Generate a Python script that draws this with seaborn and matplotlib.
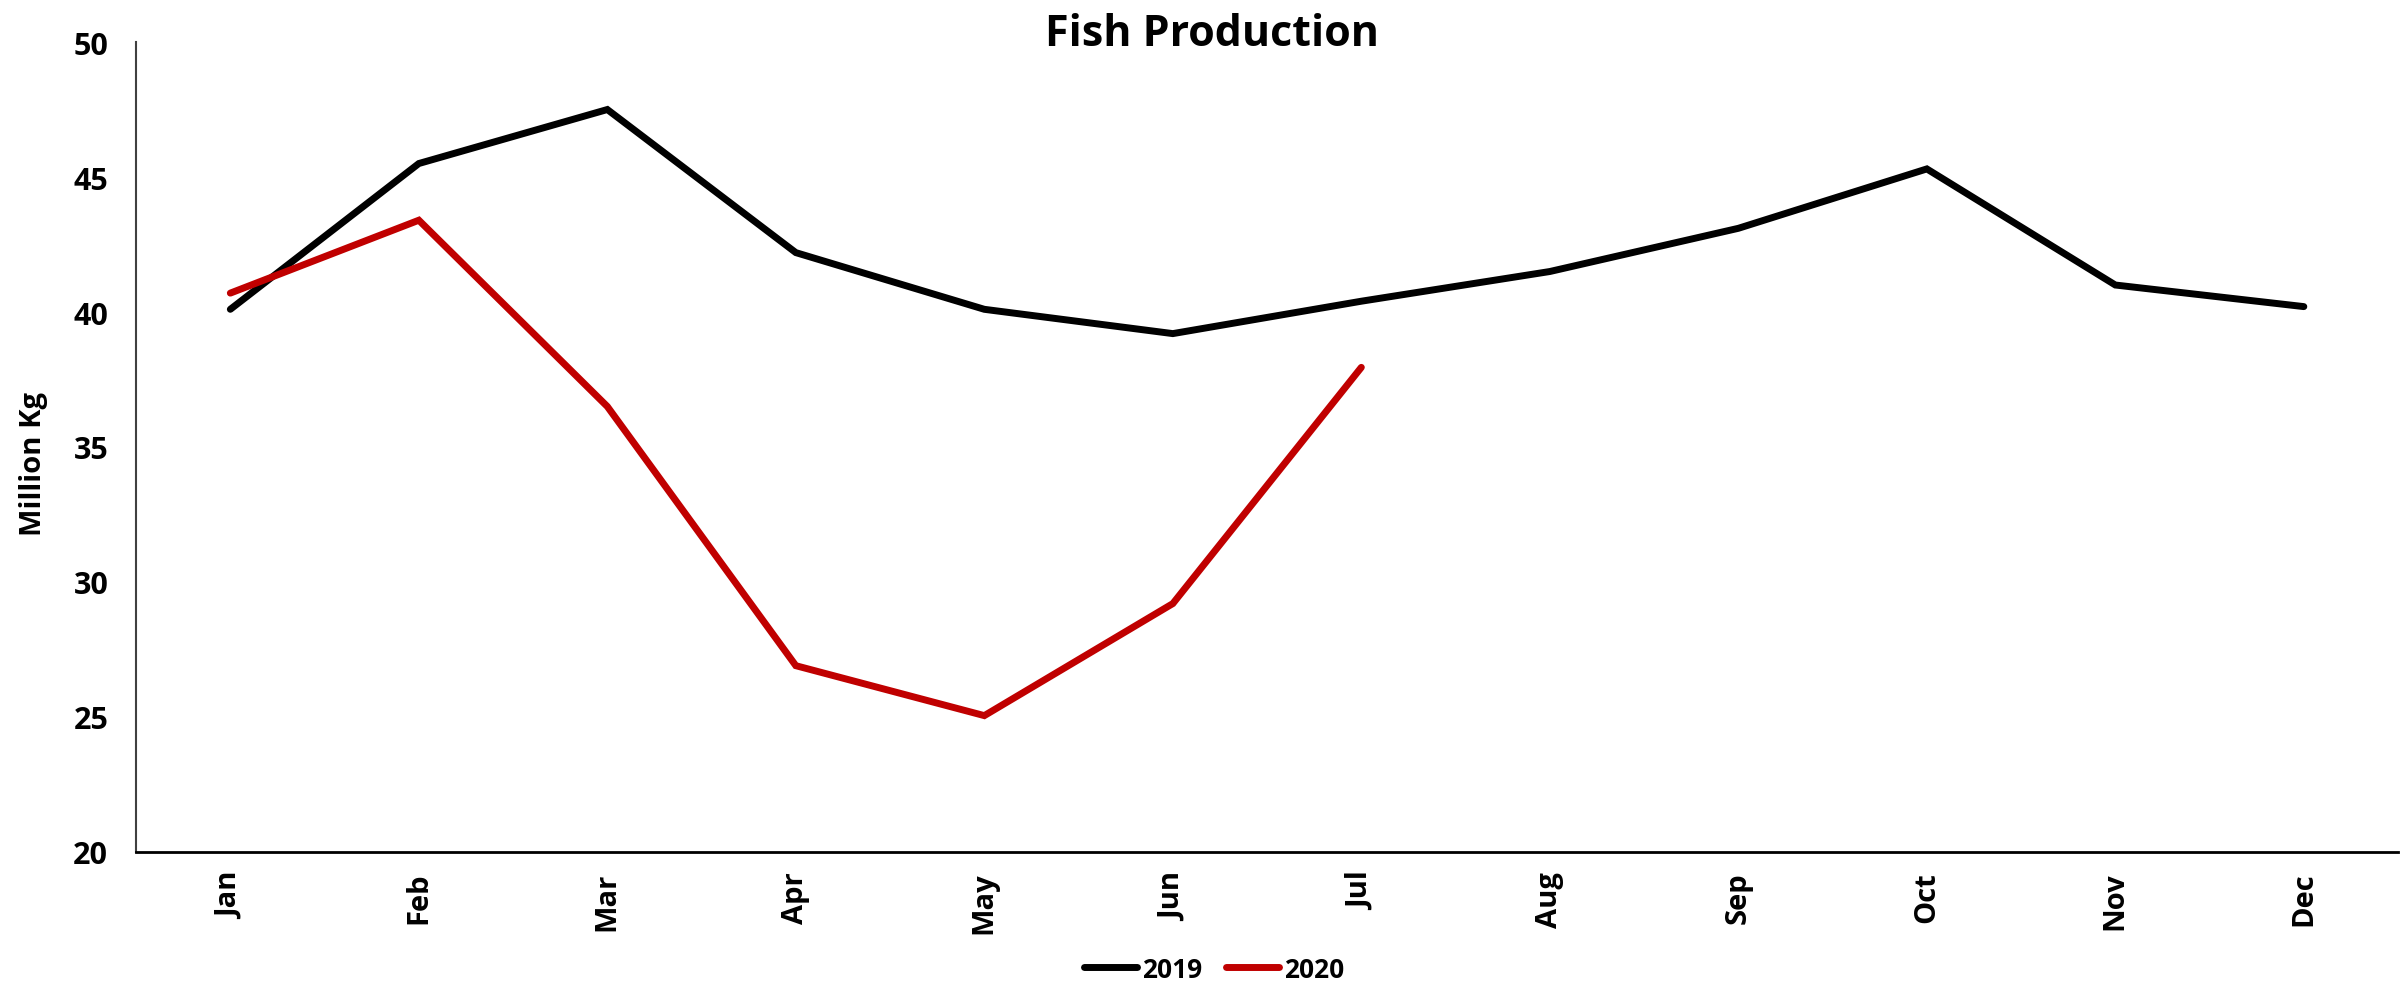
import matplotlib
matplotlib.use("Agg")
import matplotlib.pyplot as plt
import seaborn as sns
import pandas as pd

months = ["Jan", "Feb", "Mar", "Apr", "May", "Jun",
          "Jul", "Aug", "Sep", "Oct", "Nov", "Dec"]
production_2019 = [40.1, 45.5, 47.5, 42.2, 40.1, 39.2,
                   40.4, 41.5, 43.1, 45.3, 41.0, 40.2]
production_2020 = [40.7, 43.4, 36.5, 26.9, 25.05, 29.2, 37.95]
years = ["2019", "2020"]
y_ticks = [20, 25, 30, 35, 40, 45, 50]

df = pd.concat([
    pd.DataFrame({"Month": months, "Value": production_2019, "Year": years[0]}),
    pd.DataFrame({"Month": months[:len(production_2020)],
                  "Value": production_2020, "Year": years[1]}),
], ignore_index=True)

sns.set_style("white")
plt.rcParams["font.family"] = ["Open Sans", "DejaVu Sans"]
plt.rcParams["font.weight"] = "bold"
for key in ("text.color", "axes.labelcolor", "xtick.color", "ytick.color"):
    plt.rcParams[key] = "black"

fig = plt.figure(figsize=(24, 9.87), dpi=100)
ax = fig.add_axes([0.0567, 0.1358, 0.9425, 0.8206])

sns.lineplot(data=df, x="Month", y="Value", hue="Year", sort=False,
             palette={"2019": "#000000", "2020": "#C00000"},
             linewidth=5, ax=ax, legend=True)
for ln in ax.get_lines():
    ln.set_solid_capstyle("round")
    ln.set_solid_joinstyle("miter")

ax.set_xlim(-0.5, len(months) - 0.5)
ax.set_ylim(20, 50)
ax.set_yticks(y_ticks)
ax.set_yticklabels([str(t) for t in y_ticks], fontsize=22, fontweight="bold")
ax.set_xticks(range(len(months)))
ax.set_xticklabels(months, rotation=90, fontsize=21, fontweight="bold")
ax.tick_params(axis="y", length=0, pad=20)
ax.tick_params(axis="x", length=0, pad=14)
ax.set_xlabel("")
ax.set_ylabel("Million Kg", fontsize=21, fontweight="bold")
ax.yaxis.set_label_coords(-0.039, 0.48)

for side in ("top", "right"):
    ax.spines[side].set_visible(False)
ax.spines["left"].set_color("#404040")
ax.spines["left"].set_linewidth(1.5)
ax.spines["bottom"].set_color("#000000")
ax.spines["bottom"].set_linewidth(2)

fig.text(0.505, 0.965, "Fish Production", ha="center", va="center",
         fontsize=31, fontweight="bold")

handles, labels = ax.get_legend_handles_labels()
ax.get_legend().remove()
leg = fig.legend(handles, labels, loc="center", bbox_to_anchor=(0.506, 0.017),
                 ncol=2, frameon=False, prop={"size": 19, "weight": "bold"},
                 handlelength=2.0, handletextpad=0.2, columnspacing=0.9)
for h in leg.get_lines():
    h.set_linewidth(5)
    h.set_solid_capstyle("round")

fig.savefig("out.png", dpi=100, facecolor="white")
